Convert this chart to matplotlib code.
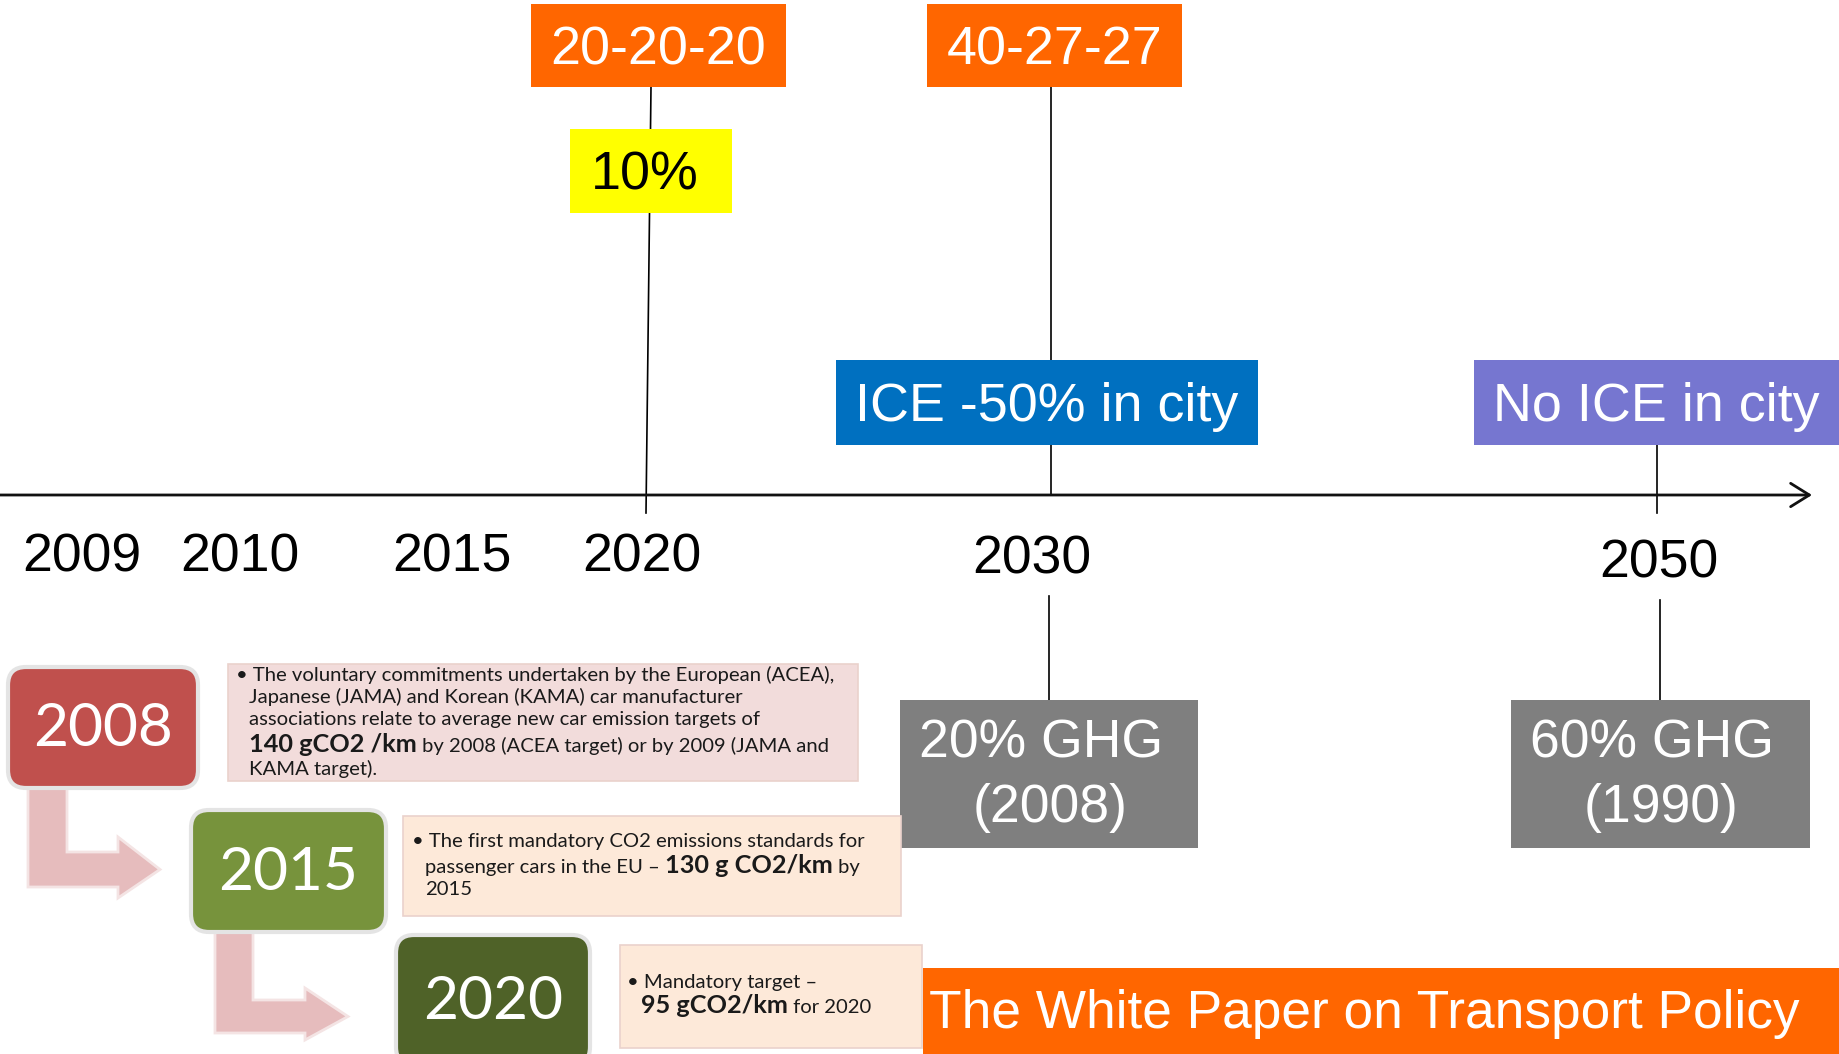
import matplotlib.pyplot as plt
from matplotlib.patches import Rectangle, FancyBboxPatch, Polygon, FancyArrowPatch

# ---- content -------------------------------------------------------------
year_labels = ['2009', '2010', '2015', '2020', '2030', '2050']

top_texts = ['20-20-20', '40-27-27', '10%', 'ICE -50% in city', 'No ICE in city']
top_colors = ['#ff6600', '#ff6600', '#ffff00', '#0070c0', '#7676d0']
top_text_colors = ['white', 'white', 'black', 'white', 'white']

ghg_texts = ['20% GHG\n(2008)', '60% GHG\n(1990)']
ghg_color = '#7f7f7f'

banner_text = 'The White Paper on Transport Policy'

milestone_years = ['2008', '2015', '2020']
milestone_colors = ['#c0504d', '#77933c', '#4f6228']
note_colors = ['#f2dcdb', '#fde9d9', '#fde9d9']

# each note: list of lines, each line a list of (text, bold)
notes = [
    [[('\u2022 The voluntary commitments undertaken by the European (ACEA),', False)],
     [('Japanese (JAMA) and Korean (KAMA) car manufacturer', False)],
     [('associations relate to average new car emission targets of', False)],
     [('140 gCO2 /km', True), (' by 2008 (ACEA target) or by 2009 (JAMA and', False)],
     [('KAMA target).', False)]],
    [[('\u2022 The first mandatory CO2 emissions standards for', False)],
     [('passenger cars in the EU \u2013 ', False), ('130 g CO2/km', True), (' by', False)],
     [('2015', False)]],
    [[('\u2022 Mandatory target \u2013', False)],
     [('95 gCO2/km', True), (' for 2020', False)]],
]

# ---- layout (pixel units of the picture) ---------------------------------
W, H = 1839, 1054
axis_y = 495
year_x = [82, 240, 452, 642, 1032, 1659]
year_y = [558, 558, 558, 558, 560, 564]
top_boxes = [(531, 4, 255, 83), (927, 4, 255, 83), (570, 129, 162, 84),
             (836, 360, 422, 85), (1474, 360, 365, 85)]
top_text_dx = [0, 0, -6, 0, 0]
ghg_boxes = [(900, 700, 298, 148), (1511, 700, 299, 148)]
ghg_line_dx = [-8, 1]
ghg_line_y = [744, 808]
connectors = [((651, 87), (646, 513)), ((1051, 87), (1051, 495)),
              ((1657, 445), (1657, 513)), ((1049, 596), (1049, 700)),
              ((1660, 600), (1660, 700))]
milestone_boxes = [(8, 667, 190, 121), (191, 810, 195, 122), (396, 935, 194, 130)]
note_boxes = [(228, 664, 630, 117), (403, 816, 498, 100), (620, 945, 302, 103)]
note_text_x = [(236, 249), (412, 425), (627, 641)]
note_baselines = [[681, 703, 725, 752, 775], [847, 873, 895], [988, 1013]]
# bent arrows: stem x0..x1, top y, bar y0..y1, head base x, head y0..y1, tip x
bent_arrows = [(28, 67, 788, 852, 887, 118, 837, 898, 160),
               (215, 253, 932, 1000, 1033, 305, 988, 1040, 348)]
banner_box = (923, 968, 916, 86)

ARIAL = ['Liberation Sans', 'DejaVu Sans']
NOTE = ['Lato', 'DejaVu Sans']

fig = plt.figure(figsize=(W / 100, H / 100), dpi=100)
ax = fig.add_axes([0, 0, 1, 1])
ax.set_xlim(0, W)
ax.set_ylim(H, 0)
ax.axis('off')

# connectors and time axis
for (x0, y0), (x1, y1) in connectors:
    ax.plot([x0, x1], [y0, y1], color='black', lw=1.2, zorder=1)
ax.add_patch(FancyArrowPatch((0, axis_y), (1812, axis_y),
                             arrowstyle='->,head_length=0.45,head_width=0.28',
                             mutation_scale=30, lw=2, color='#111111',
                             shrinkA=0, shrinkB=0, zorder=1))

for lab, x, y in zip(year_labels, year_x, year_y):
    ax.text(x, y, lab, fontsize=38.5, family=ARIAL, ha='center', va='center')

# upper boxes
for txt, fc, tc, (x, y, w, h), dx in zip(top_texts, top_colors, top_text_colors,
                                         top_boxes, top_text_dx):
    ax.add_patch(Rectangle((x, y), w, h, facecolor=fc, edgecolor='none', zorder=2))
    ax.text(x + w / 2 + dx, y + h / 2 + 5, txt, fontsize=38.8, family=ARIAL, color=tc,
            ha='center', va='center', zorder=3)

# GHG boxes, one text per line
for txt, (x, y, w, h) in zip(ghg_texts, ghg_boxes):
    ax.add_patch(Rectangle((x, y), w, h, facecolor=ghg_color, edgecolor='none', zorder=2))
    for line, dx, ly in zip(txt.split('\n'), ghg_line_dx, ghg_line_y):
        ax.text(x + w / 2 + dx, ly, line, fontsize=38.5, family=ARIAL, color='white',
                ha='center', va='center', zorder=3)

# banner
bx, by, bw, bh = banner_box
ax.add_patch(Rectangle((bx, by), bw, bh, facecolor='#ff6600', edgecolor='none', zorder=2))
ax.text(bx + 6, by + bh / 2 + 3, banner_text, fontsize=38.3, family=ARIAL, color='white',
        ha='left', va='center', zorder=3)

# bent arrows between milestones
for sx0, sx1, top, b0, b1, hx, h0, h1, tip in bent_arrows:
    pts = [(sx0, top), (sx1, top), (sx1, b0), (hx, b0), (hx, h0), (tip, (b0 + b1) / 2),
           (hx, h1), (hx, b1), (sx0, b1)]
    ax.add_patch(Polygon(pts, closed=True, facecolor='#e6bcbd', edgecolor='#f4e4e4',
                         lw=2, zorder=2))

# milestone boxes
for yr, fc, (x, y, w, h) in zip(milestone_years, milestone_colors, milestone_boxes):
    ax.add_patch(FancyBboxPatch((x, y), w, h, boxstyle='round,pad=0,rounding_size=18',
                                facecolor=fc, edgecolor='#e4e4e4', lw=3, zorder=3))
    ax.text(x + w / 2, y + h / 2 + 2, yr, fontsize=43.5, family=NOTE, color='white',
            ha='center', va='center', zorder=4)

# note boxes with mixed regular/bold lines
for lines, fc, (x, y, w, h), (bxx, tx), bases in zip(notes, note_colors, note_boxes,
                                                    note_text_x, note_baselines):
    ax.add_patch(Rectangle((x, y), w, h, facecolor=fc, edgecolor='#ead2cc', lw=1.2, zorder=2))
    for i, (parts, base) in enumerate(zip(lines, bases)):
        prev = None
        for txt, bold in parts:
            kw = dict(fontsize=18.2 if bold else 14.6, family=NOTE,
                      fontweight='bold' if bold else 'normal', color='#1a1a1a',
                      va='baseline', ha='left', zorder=3)
            if prev is None:
                prev = ax.text(bxx if i == 0 else tx, base, txt, **kw)
            else:
                prev = ax.annotate(txt, xy=(1, base), xycoords=(prev, 'data'), **kw)

fig.savefig('out.png', dpi=100)
